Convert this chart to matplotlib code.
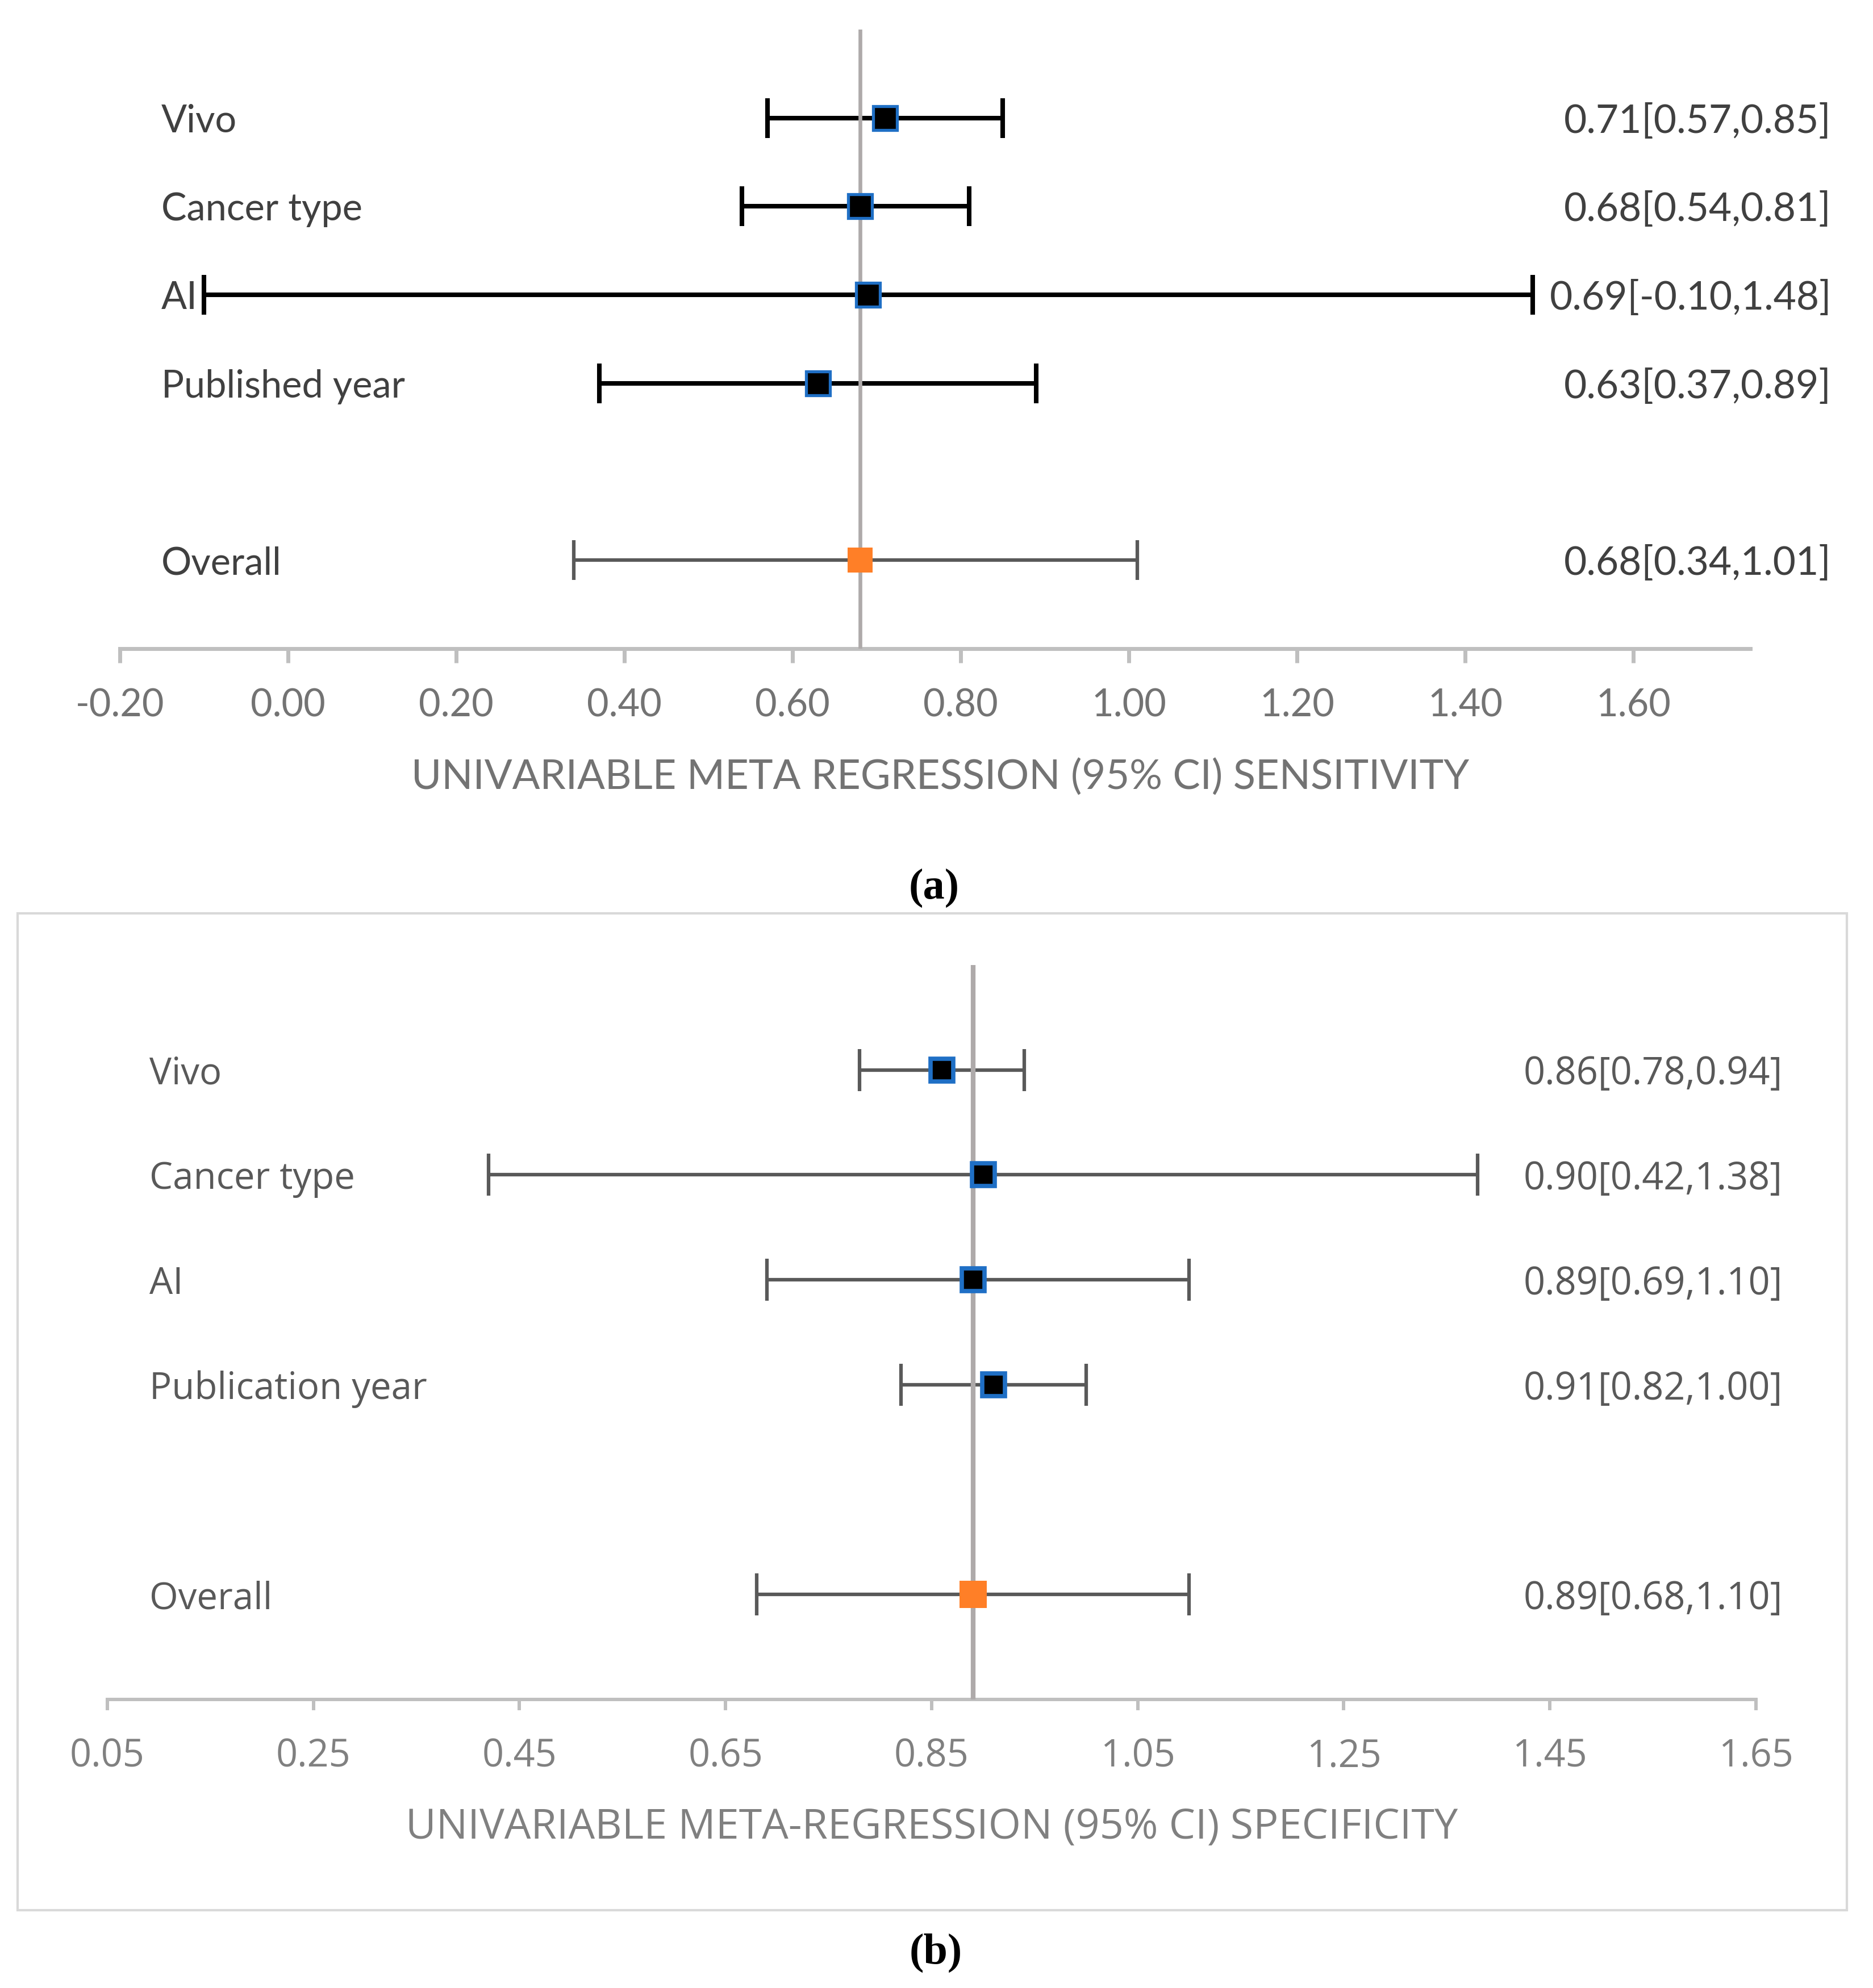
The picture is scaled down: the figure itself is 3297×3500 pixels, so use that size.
"""
Forest plots of univariable meta-regression: (a) sensitivity, (b) specificity.
Layout is worked out in figure pixels so the two panels line up with the source.
"""

import numpy as np
import matplotlib
matplotlib.use("Agg")
import matplotlib.pyplot as plt
from matplotlib.patches import Rectangle
from matplotlib.transforms import blended_transform_factory

plt.rcParams["axes.unicode_minus"] = False

# ---- data: panel (a) sensitivity --------------------------------------
sens_labels = ["Vivo", "Cancer type", "AI", "Published year"]
sens_est = [0.71, 0.68, 0.69, 0.63]
sens_lo = [0.57, 0.54, -0.10, 0.37]
sens_hi = [0.85, 0.81, 1.48, 0.89]
sens_text = ["0.71[0.57,0.85]", "0.68[0.54,0.81]", "0.69[-0.10,1.48]", "0.63[0.37,0.89]"]
sens_overall = (0.68, 0.34, 1.01, "0.68[0.34,1.01]")
sens_ticks = [-0.20, 0.00, 0.20, 0.40, 0.60, 0.80, 1.00, 1.20, 1.40, 1.60]
sens_title = "UNIVARIABLE META REGRESSION (95% CI) SENSITIVITY"

# ---- data: panel (b) specificity --------------------------------------
spec_labels = ["Vivo", "Cancer type", "AI", "Publication year"]
spec_est = [0.86, 0.90, 0.89, 0.91]
spec_lo = [0.78, 0.42, 0.69, 0.82]
spec_hi = [0.94, 1.38, 1.10, 1.00]
spec_text = ["0.86[0.78,0.94]", "0.90[0.42,1.38]", "0.89[0.69,1.10]", "0.91[0.82,1.00]"]
spec_overall = (0.89, 0.68, 1.10, "0.89[0.68,1.10]")
spec_ticks = [0.05, 0.25, 0.45, 0.65, 0.85, 1.05, 1.25, 1.45, 1.65]
spec_title = "UNIVARIABLE META-REGRESSION (95% CI) SPECIFICITY"

W, H = 3298, 3500
BLUE, ORANGE = "#1F6FC5", "#FF7F27"
REF_GREY, AXIS_GREY, FRAME_GREY = "#AEAAAA", "#BFBFBF", "#D9D9D9"


def fx(px):
    return px / W


def fy(py):
    return 1 - py / H


def forest(fig, box, xlim, labels, est, lo, hi, texts, overall, ticks, title, st):
    """Draw one forest panel. box = (left, top, right, bottom) in pixels."""
    l, t, r, b = box
    ax = fig.add_axes([fx(l), fy(b), fx(r) - fx(l), (b - t) / H])
    ax.set_xlim(*xlim)
    ax.set_ylim(-1, 6)

    # subgroup rows from the top, one empty row, then overall at 0
    y = np.arange(len(labels))[::-1] + 2.0
    est, lo, hi = map(np.asarray, (est, lo, hi))
    o_est, o_lo, o_hi, o_txt = overall

    ax.errorbar(est, y, xerr=[est - lo, hi - est], fmt="none", ecolor=st["bar"],
                elinewidth=st["lw"], capsize=st["cap"], capthick=st["lw"], zorder=2)
    ax.errorbar([o_est], [0], xerr=[[o_est - o_lo], [o_hi - o_est]], fmt="none",
                ecolor="#595959", elinewidth=st["olw"], capsize=st["cap"],
                capthick=st["olw"], zorder=2)
    ax.axvline(o_est, color=REF_GREY, lw=st["vlw"], zorder=3)
    ax.plot(est, y, "s", ms=st["ms"], mfc="black", mec=BLUE, mew=st["mew"], zorder=4)
    ax.plot([o_est], [0], "s", ms=st["oms"], mfc=ORANGE, mec=ORANGE, mew=0, zorder=4)

    # row labels on the left, estimates on the right (pixel x, data y)
    tr = blended_transform_factory(fig.transFigure, ax.transData)
    for yi, lab, txt in zip(list(y) + [0], labels + ["Overall"], texts + [o_txt]):
        ax.text(fx(st["lab_x"]), yi, lab, transform=tr, ha="left", va="center_baseline",
                fontsize=st["fs_lab"], color=st["txt"], family=st["font"], clip_on=False)
        ax.text(fx(st["val_x"]), yi, txt, transform=tr, ha=st["val_ha"],
                va="center_baseline", fontsize=st["fs_val"], color=st["txt"],
                family=st["font"], clip_on=False)

    for side in ("top", "left", "right"):
        ax.spines[side].set_visible(False)
    ax.spines["bottom"].set_color(AXIS_GREY)
    ax.spines["bottom"].set_linewidth(st["axw"])
    ax.set_yticks([])
    ax.set_xticks(ticks)
    ax.set_xticklabels([f"{v:.2f}" for v in ticks], family=st["font"],
                       fontsize=st["fs_tick"], color=st["tick_c"])
    ax.tick_params(axis="x", direction="out", length=st["tlen"], width=st["axw"],
                   color=AXIS_GREY, pad=st["pad"])
    ax.patch.set_alpha(0)

    fig.text(fx(st["title_x"]), fy(st["title_y"]), title, ha="center",
             va="center_baseline", fontsize=st["fs_title"], color=st["tick_c"],
             family=st["font"])
    return ax


fig = plt.figure(figsize=(W / 100, H / 100), dpi=100)

style_a = dict(bar="black", lw=5.8, olw=4.5, cap=25, vlw=4.8, ms=30, mew=3.8, oms=32,
               lab_x=284, val_x=3224, val_ha="right", fs_lab=48, fs_val=50,
               txt="#404040", font="Lato", axw=5, tlen=18, pad=32, fs_tick=48,
               tick_c="#737373", title_x=1655, title_y=1362, fs_title=52)
forest(fig, (211, 52, 3081, 1142), (-0.20, 1.739), sens_labels, sens_est, sens_lo,
       sens_hi, sens_text, sens_overall, sens_ticks, sens_title, style_a)

style_b = dict(bar="#595959", lw=4.5, olw=4.5, cap=26.5, vlw=6, ms=29, mew=5.5, oms=35,
               lab_x=263, val_x=2910, val_ha="center", fs_lab=47, fs_val=48,
               txt="#595959", font="Open Sans", axw=4.3, tlen=14, pad=34, fs_tick=48,
               tick_c="#808080", title_x=1640, title_y=3209, fs_title=53)
forest(fig, (189, 1699, 3091, 2992), (0.05, 1.65), spec_labels, spec_est, spec_lo,
       spec_hi, spec_text, spec_overall, spec_ticks, spec_title, style_b)

# chart-area border around panel (b)
fig.add_artist(Rectangle((fx(31), fy(3363)), fx(3251) - fx(31), (3363 - 1608) / H,
                         transform=fig.transFigure, fill=False, ec=FRAME_GREY, lw=3))

for cap, (px, py) in [("(a)", (1644, 1563)), ("(b)", (1647, 3438))]:
    fig.text(fx(px), fy(py), cap, ha="center", va="center", fontsize=55,
             family="Liberation Serif", weight="bold", color="black")

fig.savefig("out.png", dpi=100)
